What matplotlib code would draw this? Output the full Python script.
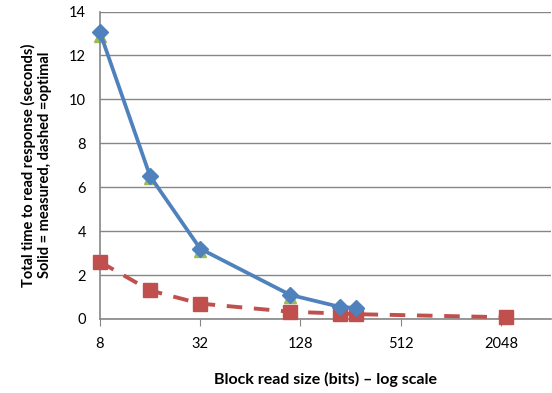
import numpy as np
import matplotlib.pyplot as plt
from matplotlib.ticker import FixedLocator, FixedFormatter, NullLocator

plt.rcParams['font.family'] = ['Lato', 'DejaVu Sans']

# block read sizes (bits)
sizes = [8, 16, 32, 111, 221, 276]
measured = [13.05, 6.5, 3.2, 1.1, 0.55, 0.5]
measured_alt = [12.9, 6.4, 3.1, 1.0, 0.5, 0.45]

opt_sizes = [8, 16, 32, 111, 221, 276, 2200]
optimal = [2.6, 1.3, 0.7, 0.33, 0.25, 0.22, 0.08]

xticks = [8, 32, 128, 512, 2048]

fig = plt.figure(figsize=(5.52, 3.93), dpi=100)
ax = fig.add_axes([100/552, 1 - 319/393, 451/552, 307.5/393])

ax.plot(sizes, measured_alt, color='#9BBB59', ls='none', marker='^', ms=9,
        zorder=2, clip_on=False)
ax.plot(opt_sizes, optimal, color='#C0504D', lw=2.8, ls=(0, (4, 3)),
        marker='s', ms=10, zorder=3, clip_on=False)
ax.plot(sizes, measured, color='#4F81BD', lw=2.7, marker='D', ms=8,
        zorder=4, clip_on=False)

ax.set_xscale('log', base=2)
ax.set_xlim(8, 4096)
ax.set_ylim(0, 14)
ax.xaxis.set_major_locator(FixedLocator(xticks))
ax.xaxis.set_major_formatter(FixedFormatter([str(t) for t in xticks]))
ax.xaxis.set_minor_locator(NullLocator())
ax.set_yticks(range(0, 15, 2))

ax.grid(axis='y', color='#868686', lw=1)
ax.set_axisbelow(True)
for s in ['top', 'right']:
    ax.spines[s].set_visible(False)
for s in ['left', 'bottom']:
    ax.spines[s].set_color('#868686')
    ax.spines[s].set_linewidth(1.2)

ax.tick_params(axis='y', length=0, labelsize=10.5, pad=10)
ax.tick_params(axis='x', length=5, color='#868686', labelsize=10.5, pad=8)

ax.set_xlabel('Block read size (bits) \u2013 log scale', fontsize=11.5,
              fontweight='bold', labelpad=15)
ax.set_ylabel('Total time to read response (seconds)\nSolid = measured, dashed =optimal',
              fontsize=10.5, fontweight='bold', labelpad=12)

plt.savefig('out.png', dpi=100)
